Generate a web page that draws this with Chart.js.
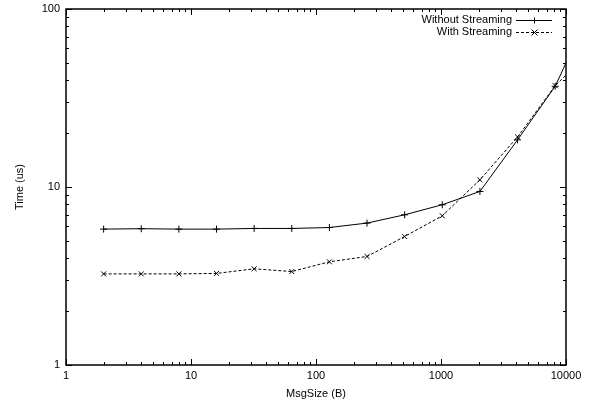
<!DOCTYPE html>
<html>
<head>
<meta charset="utf-8">
<script src="https://cdn.jsdelivr.net/npm/chart.js@4"></script>
<style>
  body { margin: 0; background: #fff; }
  canvas { display: block; }
</style>
</head>
<body>
<canvas id="myChart" width="591" height="402"></canvas>
<script>
// message sizes (bytes) and times (us)
let msgSizes = [2, 4, 8, 16, 32, 64, 128, 256, 512, 1024, 2048, 4096, 8192, 16384];
let withoutStreaming = [5.8, 5.83, 5.8, 5.8, 5.85, 5.85, 5.92, 6.27, 6.98, 7.95, 9.44, 18.4, 36.8, 105];
let withStreaming = [3.25, 3.25, 3.25, 3.27, 3.47, 3.35, 3.8, 4.07, 5.27, 6.89, 10.98, 19.1, 37.1, 60];
let xTickLabels = [1, 10, 100, 1000, 10000];
let yTickLabels = [1, 10, 100];

const FONT = 'Liberation Sans, Arial, sans-serif';

function pts(ys) {
    return msgSizes.map((x, i) => ({ x: x, y: ys[i] }));
}

// gnuplot-style tick marks on all four sides, pointing inward
const tickMarks = {
    id: 'tickMarks',
    afterDraw(chart) {
        const ctx = chart.ctx;
        const a = chart.chartArea;
        const xs = chart.scales.x, ys = chart.scales.y;
        ctx.save();
        ctx.strokeStyle = '#000';
        ctx.lineWidth = 1;
        ctx.beginPath();
        for (let d = 1; d <= 10000; d *= 10) {
            for (let m = 1; m <= 9; m++) {
                const v = d * m;
                if (v > 10000) break;
                const px = Math.round(xs.getPixelForValue(v)) + 0.5;
                const len = m === 1 ? 6 : 3;
                ctx.moveTo(px, a.bottom); ctx.lineTo(px, a.bottom - len);
                ctx.moveTo(px, a.top); ctx.lineTo(px, a.top + len);
            }
        }
        for (let d = 1; d <= 100; d *= 10) {
            for (let m = 1; m <= 9; m++) {
                const v = d * m;
                if (v > 100) break;
                const py = Math.round(ys.getPixelForValue(v)) + 0.5;
                const len = m === 1 ? 6 : 3;
                ctx.moveTo(a.left, py); ctx.lineTo(a.left + len, py);
                ctx.moveTo(a.right, py); ctx.lineTo(a.right - len, py);
            }
        }
        ctx.stroke();
        ctx.lineWidth = 1.5;
        ctx.strokeRect(a.left, a.top, a.right - a.left, a.bottom - a.top);

        // legend: text on the left, sample on the right
        const items = chart.data.datasets;
        ctx.font = '11px ' + FONT;
        ctx.fillStyle = '#000';
        ctx.textAlign = 'right';
        ctx.textBaseline = 'middle';
        items.forEach((ds, i) => {
            const y = 20 + i * 12;
            ctx.fillText(ds.label, 512, y);
            ctx.lineWidth = 1;
            ctx.setLineDash(ds.borderDash || []);
            ctx.beginPath();
            ctx.moveTo(516, y + 0.5); ctx.lineTo(552, y + 0.5);
            ctx.stroke();
            ctx.setLineDash([]);
            const cx = 534.5, r = 3;
            ctx.beginPath();
            if (ds.pointStyle === 'cross') {
                ctx.moveTo(cx - r, y + 0.5); ctx.lineTo(cx + r, y + 0.5);
                ctx.moveTo(cx, y - r + 0.5); ctx.lineTo(cx, y + r + 0.5);
            } else {
                ctx.moveTo(cx - r, y - r + 0.5); ctx.lineTo(cx + r, y + r + 0.5);
                ctx.moveTo(cx - r, y + r + 0.5); ctx.lineTo(cx + r, y - r + 0.5);
            }
            ctx.stroke();
        });
        ctx.restore();
    }
};

let ctx = document.getElementById('myChart').getContext('2d');
let chart = new Chart(ctx, {
    type: 'line',
    data: {
        datasets: [{
            label: 'Without Streaming',
            data: pts(withoutStreaming),
            borderColor: '#000',
            backgroundColor: '#000',
            borderWidth: 1,
            pointStyle: 'cross',
            pointRadius: 3.5,
            pointBorderWidth: 1
        }, {
            label: 'With Streaming',
            data: pts(withStreaming),
            borderColor: '#000',
            backgroundColor: '#000',
            borderWidth: 1,
            borderDash: [3, 2],
            pointStyle: 'crossRot',
            pointRadius: 3.5,
            pointBorderWidth: 1
        }]
    },
    options: {
        responsive: false,
        animation: false,
        layout: { padding: { top: 9, right: 25, left: 0, bottom: 0 } },
        plugins: {
            legend: { display: false },
            tooltip: { enabled: false }
        },
        scales: {
            x: {
                type: 'logarithmic',
                min: 1,
                max: 10000,
                grid: { display: false, drawTicks: false },
                border: { display: false },
                afterBuildTicks: (s) => { s.ticks = xTickLabels.map(v => ({ value: v })); },
                ticks: {
                    color: '#000',
                    font: { family: FONT, size: 11 },
                    padding: 4,
                    maxRotation: 0,
                    autoSkip: false,
                    callback: (v) => String(v)
                },
                title: {
                    display: true,
                    text: 'MsgSize (B)',
                    color: '#000',
                    font: { family: FONT, size: 11 },
                    padding: { top: 0, bottom: 1 }
                },
                afterFit: (s) => {
                    s.height = 37;
                    s.paddingLeft = 0;
                    s.paddingRight = 0;
                }
            },
            y: {
                type: 'logarithmic',
                min: 1,
                max: 100,
                grid: { display: false, drawTicks: false },
                border: { display: false },
                afterBuildTicks: (s) => { s.ticks = yTickLabels.map(v => ({ value: v })); },
                ticks: {
                    color: '#000',
                    font: { family: FONT, size: 11 },
                    padding: 6,
                    autoSkip: false,
                    callback: (v) => String(v)
                },
                title: {
                    display: true,
                    text: 'Time (us)',
                    color: '#000',
                    font: { family: FONT, size: 11 },
                    padding: { top: 13, bottom: 0 }
                },
                afterFit: (s) => {
                    s.width = 66;
                    s.paddingTop = 0;
                    s.paddingBottom = 0;
                }
            }
        }
    },
    plugins: [tickMarks]
});
</script>
</body>
</html>
